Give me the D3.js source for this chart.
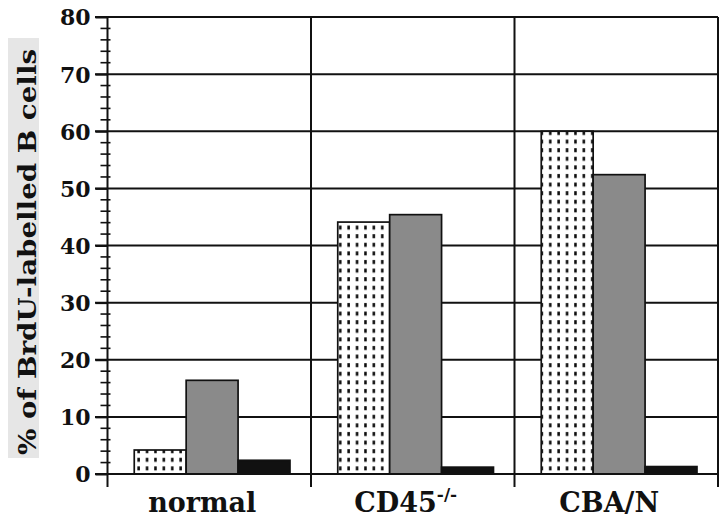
<!DOCTYPE html>
<html><head><meta charset="utf-8">
<script src="https://cdn.jsdelivr.net/npm/d3@7"></script>
<style>html,body{margin:0;padding:0;background:#fff;}svg{display:block;}</style>
</head><body>
<svg id="chart" width="720" height="518"></svg>
<script>
const categories = ["normal", "CD45", "CBA/N"];
const superscripts = ["", "-/-", ""];
const series = ["dotted", "gray", "black"];
const dottedValues = [4.2, 44.1, 60.0];
const grayValues = [16.4, 45.4, 52.4];
const blackValues = [2.4, 1.2, 1.3];
const yTicks = [0, 10, 20, 30, 40, 50, 60, 70, 80];
const yTitle = "% of BrdU-labelled B cells";

(function () {
const valuesBySeries = {dotted: dottedValues, gray: grayValues, black: blackValues};
const svg = d3.select("#chart");
const font = "'DejaVu Serif', 'Liberation Serif', serif";

const pLeft = 107.5, pRight = 718, pTop = 17, pBottom = 474;
const y = d3.scaleLinear().domain([0, 80]).range([pBottom, pTop]);
const x0 = d3.scaleBand().domain(categories).range([pLeft, pRight]).paddingInner(0).paddingOuter(0);
const x1 = d3.scaleBand().domain(series).range([0, x0.bandwidth()]).paddingInner(0).paddingOuter(0.46).align(0.56);

const defs = svg.append("defs");
const pat = defs.append("pattern").attr("id", "dots").attr("patternUnits", "userSpaceOnUse")
  .attr("width", 8.4).attr("height", 8.6);
pat.append("rect").attr("width", 8.4).attr("height", 8.6).attr("fill", "#fff");
pat.append("rect").attr("x", 3).attr("y", 2).attr("width", 2.5).attr("height", 4).attr("fill", "#0a0a0a");

// y-axis title background and text
svg.append("rect").attr("x", 8).attr("y", 38).attr("width", 31).attr("height", 420).attr("fill", "#e6e6e6");
const tt = svg.append("text")
  .attr("transform", `translate(36,${(48 + 456) / 2}) rotate(-90)`)
  .attr("text-anchor", "middle").attr("font-family", font).attr("font-weight", "bold")
  .attr("font-size", 25).attr("fill", "#111").text(yTitle);
tt.attr("textLength", 406).attr("lengthAdjust", "spacingAndGlyphs");

const g = svg.append("g");
g.selectAll("line.grid").data(yTicks.filter(d => d > 0)).join("line")
  .attr("x1", 95).attr("x2", pRight).attr("y1", d => y(d)).attr("y2", d => y(d))
  .attr("stroke", "#111").attr("stroke-width", 2);

const seps = categories.map(c => x0(c) + x0.bandwidth());
g.selectAll("line.sep").data(seps).join("line")
  .attr("x1", d => d).attr("x2", d => d).attr("y1", pTop).attr("y2", pBottom + 13)
  .attr("stroke", "#111").attr("stroke-width", 2);

const rows = [];
categories.forEach((c, i) => series.forEach(s => rows.push({c, s, v: valuesBySeries[s][i]})));
const fills = {dotted: "url(#dots)", gray: "#8a8a8a", black: "#111"};
svg.append("g").selectAll("rect").data(rows).join("rect")
  .attr("x", d => x0(d.c) + x1(d.s)).attr("width", x1.bandwidth())
  .attr("y", d => y(d.v)).attr("height", d => y(0) - y(d.v))
  .attr("fill", d => fills[d.s]).attr("stroke", "#111")
  .attr("stroke-width", 1.7);

svg.append("line").attr("x1", 95).attr("x2", pRight).attr("y1", y(0)).attr("y2", y(0))
  .attr("stroke", "#111").attr("stroke-width", 2);

const yAxis = d3.axisLeft(y).tickValues(yTicks).tickSize(12).tickPadding(6).tickFormat(d3.format("d"));
const ya = svg.append("g").attr("transform", `translate(${pLeft},0)`).call(yAxis);
ya.select(".domain").remove();
ya.selectAll(".tick line").attr("stroke", "#111").attr("stroke-width", 2);
ya.selectAll(".tick text").attr("font-family", font).attr("font-weight", "bold")
  .attr("font-size", 22).attr("fill", "#111").attr("dy", "0.36em").attr("x", -17);
svg.append("line").attr("x1", pLeft).attr("x2", pLeft).attr("y1", pTop - 1).attr("y2", pBottom + 13)
  .attr("stroke", "#111").attr("stroke-width", 2);
const minor = d3.range(0, 81, 2).filter(d => d % 10 !== 0);
svg.append("g").selectAll("line").data(minor).join("line")
  .attr("x1", pLeft - 7).attr("x2", pLeft + 3).attr("y1", d => y(d)).attr("y2", d => y(d))
  .attr("stroke", "#111").attr("stroke-width", 1.6);

const xl = svg.append("g").selectAll("text").data(categories).join("text")
  .attr("x", d => x0(d) + x0.bandwidth() / 2 - 7).attr("y", 512)
  .attr("text-anchor", "middle").attr("font-family", font).attr("font-weight", "bold")
  .attr("font-size", 27).attr("fill", "#111");
xl.append("tspan").text(d => d);
xl.append("tspan").attr("font-size", 17).attr("dy", -12).text((d, i) => superscripts[i]);
})();
</script>
</body></html>
